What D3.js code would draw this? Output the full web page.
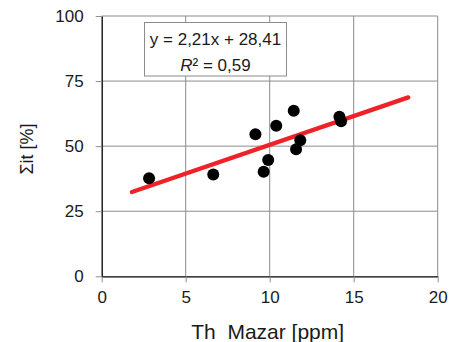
<!DOCTYPE html>
<html>
<head>
<meta charset="utf-8">
<script src="https://cdn.jsdelivr.net/npm/d3@7"></script>
<style>
  html, body { margin: 0; padding: 0; background: #fff; }
  svg { display: block; }
  text { font-family: "Liberation Sans", Arial, sans-serif; fill: #1a1a1a; }
</style>
</head>
<body>
<svg id="chart" width="449" height="342"></svg>
<script>
// Th (ppm) versus Σit (%) for the sampled points
const thValues = [2.82, 6.64, 9.15, 9.64, 9.91, 10.39, 11.43, 11.57, 11.82, 14.15, 14.25];
const sumValues = [37.7, 39.1, 54.6, 40.2, 44.7, 57.8, 63.6, 48.8, 52.3, 61.3, 59.6];

// Linear trend: y = slope * x + intercept, drawn over trendRange
const slope = 2.21;
const intercept = 28.41;
const rSquared = 0.59;
const trendRange = [1.8, 18.25];

const xTicks = [0, 5, 10, 15, 20];
const yTicks = [0, 25, 50, 75, 100];
const xTitle = "Th  Mazar [ppm]";
const yTitle = "Σit [%]";

const fmt = v => v.toFixed(2).replace(".", ",");

const svg = d3.select("#chart");
const plot = { left: 101.7, right: 437.7, top: 16, bottom: 276.3 };

const x = d3.scaleLinear().domain([0, 20]).range([plot.left, plot.right]);
const y = d3.scaleLinear().domain([0, 100]).range([plot.bottom, plot.top]);

// grid
const grid = svg.append("g").attr("stroke", "#8c8c8c").attr("stroke-width", 1);
grid.selectAll(".gx").data(xTicks.slice(1)).join("line")
  .attr("x1", d => x(d)).attr("x2", d => x(d))
  .attr("y1", plot.top).attr("y2", plot.bottom);
grid.selectAll(".gy").data(yTicks.slice(1)).join("line")
  .attr("x1", plot.left).attr("x2", plot.right)
  .attr("y1", d => y(d)).attr("y2", d => y(d));

// axes
const xAxis = svg.append("g").attr("transform", `translate(0,${plot.bottom})`)
  .call(d3.axisBottom(x).tickValues(xTicks).tickSize(6).tickPadding(9).tickSizeOuter(0));
const yAxis = svg.append("g").attr("transform", `translate(${plot.left},0)`)
  .call(d3.axisLeft(y).tickValues(yTicks).tickSize(6).tickPadding(12).tickSizeOuter(0));

[xAxis, yAxis].forEach(g => {
  g.select(".domain").attr("stroke", "#000").attr("stroke-width", 1.3);
  g.selectAll(".tick line").attr("stroke", "#8c8c8c");
  g.selectAll(".tick text").attr("font-size", 17)
    .attr("font-family", "Liberation Sans, Arial, sans-serif").attr("fill", "#1a1a1a");
});

// trend line
svg.append("line")
  .attr("x1", x(trendRange[0])).attr("y1", y(slope * trendRange[0] + intercept))
  .attr("x2", x(trendRange[1])).attr("y2", y(slope * trendRange[1] + intercept))
  .attr("stroke", "#ee2228").attr("stroke-width", 4.3).attr("stroke-linecap", "round");

// points
svg.append("g").selectAll("circle")
  .data(thValues.map((v, i) => [v, sumValues[i]]))
  .join("circle")
  .attr("cx", d => x(d[0])).attr("cy", d => y(d[1]))
  .attr("r", 6).attr("fill", "#000");

// equation box
const box = svg.append("g");
box.append("rect")
  .attr("x", 144.5).attr("y", 22.5).attr("width", 142).attr("height", 53.5)
  .attr("fill", "#fff").attr("stroke", "#8c8c8c").attr("stroke-width", 1);
box.append("text")
  .attr("x", 215.5).attr("y", 45).attr("text-anchor", "middle").attr("font-size", 17)
  .text(`y = ${fmt(slope)}x + ${fmt(intercept)}`);
const r2 = box.append("text")
  .attr("x", 215.5).attr("y", 70.5).attr("text-anchor", "middle").attr("font-size", 17);
r2.append("tspan").attr("font-style", "italic").text("R");
r2.append("tspan").text(`² = ${fmt(rSquared)}`);

// axis titles
svg.append("text")
  .attr("x", (plot.left + plot.right) / 2 - 2).attr("y", 338.5)
  .attr("text-anchor", "middle").attr("font-size", 21)
  .style("white-space", "pre")
  .text(xTitle);
svg.append("text")
  .attr("transform", `translate(33,149) rotate(-90)`)
  .attr("text-anchor", "middle").attr("font-size", 18)
  .text(yTitle);
</script>
</body>
</html>
